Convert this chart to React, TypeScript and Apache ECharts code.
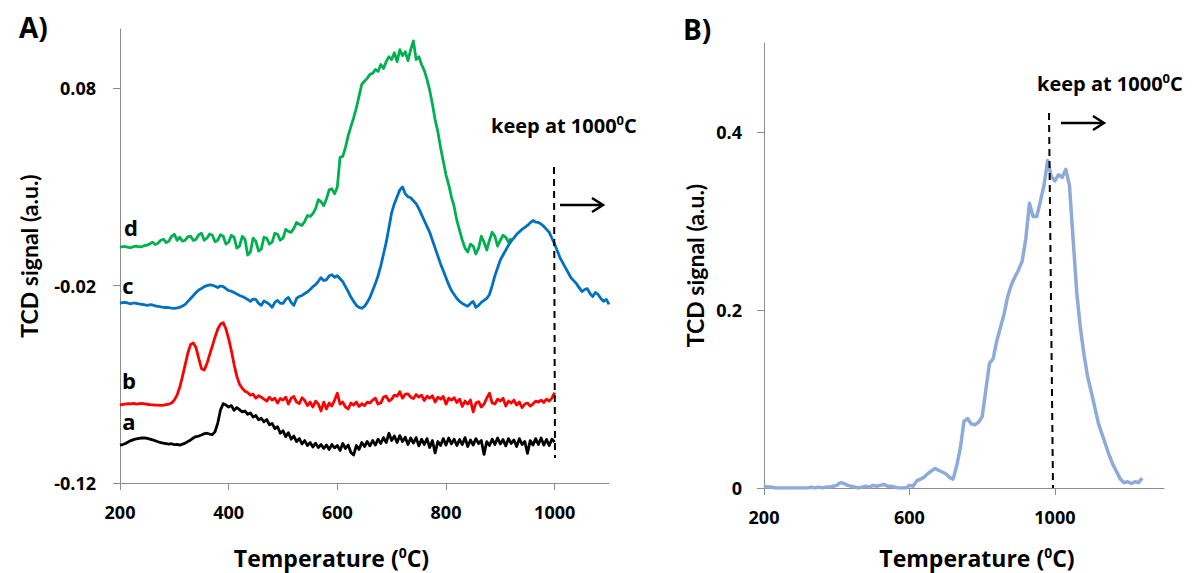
import React, { useEffect, useRef } from "react";
import * as echarts from "echarts";

// ---------- DATA ----------
// Panel A: temperature grid starts at 200 °C with a 5 °C step
const A_T0 = 200;
const A_STEP = 5;
const seriesA_a = [
  -0.1008, -0.1005, -0.1, -0.0992, -0.0985, -0.098, -0.0977, -0.0974, -0.0972, -0.0971,
  -0.0974, -0.0978, -0.0982, -0.0986, -0.0991, -0.0995, -0.0998, -0.1, -0.1003, -0.1001,
  -0.1006, -0.1004, -0.1008, -0.1003, -0.0998, -0.099, -0.0982, -0.0972, -0.0965, -0.0962,
  -0.0957, -0.095, -0.0948, -0.0952, -0.0955, -0.094, -0.0895, -0.083, -0.0798, -0.0805,
  -0.0815, -0.0808, -0.0832, -0.0818, -0.0828, -0.084, -0.0835, -0.0852, -0.0845, -0.0866,
  -0.0858, -0.088, -0.0872, -0.089, -0.0878, -0.0905, -0.0898, -0.0925, -0.0915, -0.0948,
  -0.0935, -0.0965, -0.0945, -0.0978, -0.0962, -0.099, -0.0975, -0.1002, -0.0985, -0.101,
  -0.0995, -0.1018, -0.0998, -0.102, -0.1005, -0.1025, -0.1008, -0.103, -0.1005, -0.1022,
  -0.101, -0.1035, -0.1, -0.1025, -0.1008, -0.1045, -0.1058, -0.101, -0.103, -0.0995,
  -0.1015, -0.099, -0.1012, -0.0985, -0.1008, -0.0978, -0.1, -0.097, -0.0995, -0.0948,
  -0.0985, -0.0962, -0.0995, -0.096, -0.099, -0.0968, -0.1005, -0.0972, -0.0998, -0.097,
  -0.1012, -0.0978, -0.1005, -0.0975, -0.102, -0.0985, -0.1048, -0.099, -0.101, -0.0975,
  -0.1008, -0.0972, -0.1002, -0.0978, -0.101, -0.098, -0.1005, -0.097, -0.1015, -0.0982,
  -0.1008, -0.0975, -0.1, -0.0985, -0.1055, -0.099, -0.101, -0.0978, -0.1005, -0.0972,
  -0.1002, -0.098, -0.1012, -0.0975, -0.1, -0.0982, -0.1015, -0.0975, -0.1005, -0.099,
  -0.105, -0.0985, -0.1008, -0.0975, -0.1005, -0.0972, -0.1008, -0.098, -0.101, -0.0978,
  -0.0992,
];
const seriesA_b = [
  -0.0805, -0.0802, -0.08, -0.0798, -0.0799, -0.0797, -0.08, -0.0798, -0.0797, -0.0799,
  -0.0801, -0.0803, -0.0804, -0.0806, -0.0805, -0.0807, -0.0806, -0.0803, -0.08, -0.0795,
  -0.078, -0.0755, -0.0715, -0.066, -0.06, -0.054, -0.0498, -0.049, -0.0515, -0.057,
  -0.062, -0.0628, -0.0595, -0.055, -0.0505, -0.046, -0.042, -0.0395, -0.0388, -0.042,
  -0.047, -0.053, -0.06, -0.066, -0.07, -0.072, -0.0735, -0.0742, -0.0755, -0.075,
  -0.077, -0.0758, -0.0765, -0.0775, -0.0785, -0.0765, -0.078, -0.077, -0.0795, -0.0772,
  -0.078, -0.0765, -0.08, -0.077, -0.0762, -0.079, -0.0798, -0.0768, -0.0782, -0.0808,
  -0.079, -0.0815, -0.0785, -0.08, -0.0835, -0.079, -0.0825, -0.0795, -0.081, -0.078,
  -0.0745, -0.08, -0.079, -0.0815, -0.0825, -0.0795, -0.0805, -0.079, -0.0812, -0.0798,
  -0.0808, -0.079, -0.0795, -0.078, -0.077, -0.08, -0.0795, -0.0765, -0.076, -0.0785,
  -0.0775, -0.0755, -0.076, -0.0738, -0.077, -0.075, -0.0748, -0.0765, -0.0772, -0.0752,
  -0.0765, -0.0755, -0.0782, -0.076, -0.077, -0.0758, -0.079, -0.0765, -0.0775, -0.0762,
  -0.08, -0.077, -0.078, -0.0768, -0.0792, -0.0775, -0.0812, -0.0785, -0.08, -0.078,
  -0.084, -0.0795, -0.0788, -0.0815, -0.08, -0.077, -0.0745, -0.0795, -0.08, -0.0775,
  -0.0785, -0.077, -0.081, -0.0785, -0.0795, -0.078, -0.0805, -0.079, -0.0818, -0.08,
  -0.0795, -0.081, -0.08, -0.0785, -0.079, -0.078, -0.0792, -0.0775, -0.0785, -0.077,
  -0.0742,
];
const seriesA_c = [
  -0.0289, -0.0286, -0.0285, -0.0289, -0.0292, -0.0288, -0.029, -0.0293, -0.0295, -0.0297,
  -0.03, -0.0297, -0.0298, -0.0303, -0.0305, -0.0308, -0.031, -0.0311, -0.0312, -0.0314,
  -0.0315, -0.0313, -0.031, -0.0303, -0.0295, -0.028, -0.0265, -0.025, -0.0235, -0.0222,
  -0.0215, -0.0205, -0.02, -0.0196, -0.0198, -0.0203, -0.021, -0.0202, -0.0205, -0.0215,
  -0.0225, -0.0228, -0.0235, -0.0242, -0.025, -0.0255, -0.0262, -0.027, -0.028, -0.0268,
  -0.027, -0.029, -0.03, -0.0278, -0.0285, -0.0295, -0.031, -0.0285, -0.0275, -0.029,
  -0.029, -0.027, -0.026, -0.0285, -0.03, -0.0265, -0.0255, -0.025, -0.024, -0.0232,
  -0.022, -0.0205, -0.0195, -0.0178, -0.016, -0.0175, -0.017, -0.015, -0.0145, -0.0158,
  -0.015, -0.0165, -0.018, -0.0205, -0.023, -0.0258, -0.028, -0.03, -0.031, -0.0315,
  -0.0305, -0.0285, -0.026, -0.0225, -0.019, -0.015, -0.01, -0.004, 0.002, 0.0095,
  0.017, 0.0215, 0.025, 0.0285, 0.03, 0.0265, 0.025, 0.0245, 0.023, 0.0215,
  0.019, 0.016, 0.013, 0.01, 0.007, 0.003, -0.001, -0.005, -0.009, -0.0125,
  -0.016, -0.0195, -0.0225, -0.0245, -0.0265, -0.028, -0.029, -0.0298, -0.0305, -0.029,
  -0.028, -0.031, -0.03, -0.0285, -0.0275, -0.0265, -0.0245, -0.02, -0.015, -0.011,
  -0.007, -0.0045, -0.002, 0.0005, 0.0025, 0.0042, 0.006, 0.0072, 0.0085, 0.0095,
  0.0105, 0.0118, 0.013, 0.0122, 0.012, 0.0112, 0.01, 0.0085, 0.007, 0.004,
  0.001, -0.0025, -0.006, -0.0085, -0.011, -0.0135, -0.016, -0.0175, -0.019, -0.021,
  -0.023, -0.022, -0.0215, -0.024, -0.0255, -0.0235, -0.0245, -0.0265, -0.028, -0.027,
  -0.0295,
];
const seriesA_d = [
  -0.0005, -0.0003, -0.0002, -0.0006, -0.0008, -0.0002, 0.0, -0.0004, -0.0003, 0.0003,
  0.0005, 0.0012, 0.002, 0.0008, 0.0015, 0.003, 0.0035, 0.0018, 0.0025, 0.005,
  0.006, 0.003, 0.0045, 0.0025, 0.003, 0.0048, 0.005, 0.0028, 0.0035, 0.0058,
  0.0065, 0.003, 0.004, 0.0062, 0.0055, 0.0022, 0.003, 0.0058, 0.005, 0.001,
  0.002, 0.0055, 0.0045, -0.001, 0.0, 0.005, 0.0035, -0.0045, -0.003, 0.004,
  0.0025, -0.0025, -0.0015, 0.0045, 0.004, 0.001, 0.002, 0.0065, 0.006, 0.003,
  0.004, 0.0085, 0.0075, 0.007, 0.009, 0.012, 0.011, 0.0105, 0.0125, 0.0155,
  0.015, 0.0165, 0.019, 0.0235, 0.0225, 0.0205, 0.024, 0.0285, 0.029, 0.0265,
  0.03, 0.045, 0.0455, 0.05, 0.056, 0.0605, 0.065, 0.07, 0.076, 0.082,
  0.0835, 0.085, 0.087, 0.0875, 0.0895, 0.0885, 0.092, 0.09, 0.0935, 0.096,
  0.0945, 0.098, 0.0935, 0.0995, 0.0965, 0.0985, 0.094, 0.0995, 0.104, 0.0945,
  0.096, 0.092, 0.089, 0.0845, 0.079, 0.072, 0.064, 0.058, 0.05, 0.043,
  0.036, 0.031, 0.025, 0.02, 0.013, 0.008, 0.003, -0.001, -0.003, 0.001,
  0.0, -0.004, -0.001, 0.005, 0.002, -0.002, 0.003, 0.007, 0.005, 0.0,
  0.003, 0.0055, 0.0045, 0.002, 0.004,
];
// Panel B: temperature grid starts at 200 °C with a 10 °C step
const B_T0 = 200;
const B_STEP = 10;
const seriesB = [
  0.002, 0.001, 0.001, 0.0, 0.0, 0.0, 0.0, 0.0, 0.0, 0.0,
  0.0, 0.0, 0.0, 0.001, 0.0, 0.001, 0.0, 0.001, 0.001, 0.002,
  0.003, 0.006, 0.005, 0.003, 0.002, 0.001, 0.0, 0.001, 0.002, 0.001,
  0.003, 0.002, 0.003, 0.004, 0.002, 0.002, 0.001, 0.0, 0.0, 0.0,
  0.003, 0.002, 0.008, 0.01, 0.012, 0.016, 0.019, 0.022, 0.02, 0.018,
  0.016, 0.012, 0.01, 0.025, 0.045, 0.075, 0.078, 0.072, 0.071, 0.074,
  0.08, 0.11, 0.14, 0.145, 0.165, 0.18, 0.195, 0.215, 0.228, 0.237,
  0.245, 0.255, 0.28, 0.32, 0.305, 0.305, 0.322, 0.34, 0.368, 0.35,
  0.345, 0.352, 0.349, 0.358, 0.34, 0.28, 0.22, 0.18, 0.15, 0.125,
  0.108, 0.09, 0.072, 0.06, 0.048, 0.036, 0.026, 0.018, 0.01, 0.006,
  0.007, 0.005, 0.007, 0.006, 0.011,
];
const tickA_x = [200, 400, 600, 800, 1000];
const tickA_y = [-0.12, -0.02, 0.08];
const tickB_x = [200, 600, 1000];
const tickB_y = [0, 0.2, 0.4];
const curveLabels = ["a", "b", "c", "d"];

// ---------- STYLE ----------
const FONT = "'Open Sans', Lato, sans-serif";
const FONT_V = "Lato, 'Open Sans', sans-serif";
const AXIS_COLOR = "#8c8c8c";

const toPairs = (vals: number[], t0: number, step: number) =>
  vals.map((v, i) => [t0 + i * step, v]);

function xAxisCfg(gridIndex: number, min: number, max: number, ticks: number[], gap: number, pad: number[]) {
  return {
    type: "value",
    gridIndex,
    min,
    max,
    name: "Temperature ({sup|0}C)",
    nameLocation: "middle",
    nameGap: gap,
    nameTextStyle: {
      fontFamily: FONT,
      fontWeight: "bold",
      fontSize: 23,
      color: "#000",
      lineHeight: 26,
      padding: pad,
      rich: {
        sup: { fontSize: 14, fontWeight: "bold", fontFamily: FONT, color: "#000", verticalAlign: "top", lineHeight: 26 },
      },
    },
    axisLine: { show: true, onZero: false, lineStyle: { color: AXIS_COLOR, width: 1 } },
    axisTick: { show: true, length: 7, lineStyle: { color: AXIS_COLOR }, customValues: ticks },
    axisLabel: {
      customValues: ticks,
      formatter: (v: number) => String(v),
      margin: 20,
      fontFamily: FONT,
      fontWeight: "bold",
      fontSize: 18,
      color: "#000",
    },
    splitLine: { show: false },
  };
}

function yAxisCfg(gridIndex: number, min: number, max: number, ticks: number[], fmt: (v: number) => string, gap: number, margin: number) {
  return {
    type: "value",
    gridIndex,
    min,
    max,
    name: "TCD signal (a.u.)",
    nameLocation: "middle",
    nameRotate: 90,
    nameGap: gap,
    nameTextStyle: { fontFamily: FONT_V, fontWeight: "bold", fontSize: 23, color: "#000" },
    axisLine: { show: true, onZero: false, lineStyle: { color: AXIS_COLOR, width: 1 } },
    axisTick: { show: true, length: 7, lineStyle: { color: AXIS_COLOR }, customValues: ticks },
    axisLabel: {
      customValues: ticks,
      formatter: fmt,
      margin,
      fontFamily: FONT,
      fontWeight: "bold",
      fontSize: 18,
      color: "#000",
    },
    splitLine: { show: false },
  };
}

function lineSeries(name: string, data: number[][], color: string, idx: number, width: number) {
  return {
    type: "line",
    name,
    xAxisIndex: idx,
    yAxisIndex: idx,
    data,
    showSymbol: false,
    symbol: "none",
    lineStyle: { color, width, join: "round" },
    z: 3,
  };
}

function annotText(x: number, y: number) {
  return {
    type: "text",
    x,
    y,
    style: {
      text: "keep at 1000{sup|0}C",
      fontFamily: FONT,
      fontWeight: "bold",
      fontSize: 20,
      fill: "#000",
      lineHeight: 24,
      rich: { sup: { fontSize: 13, fontWeight: "bold", fontFamily: FONT, fill: "#000", verticalAlign: "top", lineHeight: 24 } },
    },
    z: 10,
  };
}

function arrow(x1: number, x2: number, y: number) {
  return [
    { type: "line", shape: { x1, y1: y, x2: x2 - 1, y2: y }, style: { stroke: "#000", lineWidth: 2.5 }, z: 10 },
    {
      type: "polyline",
      shape: { points: [[x2 - 11, y - 7], [x2, y], [x2 - 11, y + 7]] },
      style: { stroke: "#000", lineWidth: 2.5, fill: null },
      z: 10,
    },
  ];
}

function dashed(x1: number, y1: number, x2: number, y2: number) {
  return {
    type: "line",
    shape: { x1, y1, x2, y2 },
    style: { stroke: "#000", lineWidth: 2, lineDash: [7, 5] },
    z: 10,
  };
}

function curveLabel(text: string, x: number, y: number) {
  return {
    type: "text",
    x,
    y,
    style: { text, fontFamily: FONT, fontWeight: "bold", fontSize: 22, fill: "#000", textAlign: "center", textVerticalAlign: "middle" },
    z: 10,
  };
}

export default function App() {
  const ref = useRef<HTMLDivElement>(null);
  useEffect(() => {
    if (!ref.current) return;
    const chart = echarts.init(ref.current, null, { renderer: "svg" });
    const labelPos: Record<string, [number, number]> = {
      a: [129, 421],
      b: [129, 380],
      c: [128, 285],
      d: [131, 227],
    };
    const option = {
      animation: false,
      backgroundColor: "#fff",
      grid: [
        { left: 120, top: 29, width: 489, height: 454, outerBoundsMode: "none", containLabel: false },
        { left: 764, top: 43, width: 400, height: 445, outerBoundsMode: "none", containLabel: false },
      ],
      xAxis: [
        xAxisCfg(0, 200, 1100, tickA_x, 62, [0, 66, 0, 0]),
        xAxisCfg(1, 200, 1300, tickB_x, 57, [0, 0, 0, 26]),
      ],
      yAxis: [
        yAxisCfg(0, -0.12, 0.11, tickA_y, (v: number) => v.toFixed(2), 80, 24),
        yAxisCfg(1, 0, 0.5, tickB_y, (v: number) => (v === 0 ? "0" : v.toFixed(1)), 58, 22),
      ],
      series: [
        lineSeries("a", toPairs(seriesA_a, A_T0, A_STEP), "#000000", 0, 2.8),
        lineSeries("b", toPairs(seriesA_b, A_T0, A_STEP), "#ff0000", 0, 2.8),
        lineSeries("d", toPairs(seriesA_d, A_T0, A_STEP), "#00b050", 0, 2.8),
        lineSeries("c", toPairs(seriesA_c, A_T0, A_STEP), "#0070c0", 0, 2.8),
        lineSeries("B", toPairs(seriesB, B_T0, B_STEP), "#8eaad8", 1, 3.5),
      ],
      graphic: [
        { type: "text", x: 19, y: 13, style: { text: "A)", fontFamily: FONT, fontWeight: "bold", fontSize: 28, fill: "#000" }, z: 10 },
        { type: "text", x: 683, y: 15, style: { text: "B)", fontFamily: FONT, fontWeight: "bold", fontSize: 28, fill: "#000" }, z: 10 },
        ...curveLabels.map((l) => curveLabel(l, labelPos[l][0], labelPos[l][1])),
        annotText(491, 113),
        annotText(1037, 71),
        dashed(554, 167, 555, 458),
        dashed(1049, 113, 1053, 488),
        ...arrow(560, 603, 205),
        ...arrow(1061, 1104, 123),
      ],
    };
    chart.setOption(option as any);
    return () => chart.dispose();
  }, []);
  return (
    <div
      ref={ref}
      style={{ position: "fixed", left: 0, top: 0, width: 1199, height: 573, background: "#fff" }}
    />
  );
}
